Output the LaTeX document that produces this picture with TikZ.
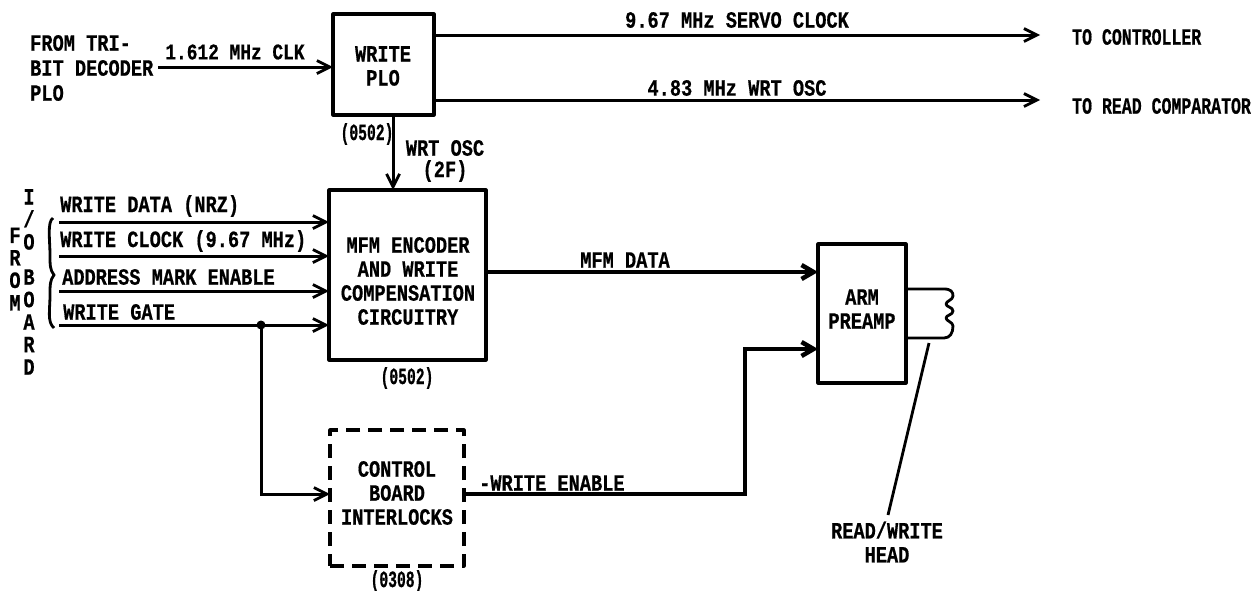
\documentclass[tikz,border=0pt]{standalone}
\usepackage{fontspec}
\usetikzlibrary{arrows.meta,calc}
\newfontfamily\lett[FakeStretch=0.8,FakeBold=0.6]{Liberation Mono Bold}
\newfontfamily\lettr[FakeStretch=0.71,FakeBold=0.6]{Liberation Mono Bold}
\newfontfamily\letts[FakeStretch=0.63,FakeBold=0.6]{Liberation Mono Bold}
\tikzset{
  x=1pt,y=-1pt,
  block/.style={draw,line width=3.2pt,line join=round,inner sep=0pt,align=center},
  dashblock/.style={block,dash pattern=on 14pt off 8pt},
  lbl/.style={font=\lett\fontsize{23.3}{24}\selectfont,inner sep=0pt,align=center},
  lbls/.style={lbl,font=\letts\fontsize{23.3}{24}\selectfont},
  lblr/.style={lbl,font=\lettr\fontsize{23.3}{24}\selectfont,anchor=west},
  lbll/.style={lbl,anchor=west,align=left},
  conn/.style={line width=3pt,-{Straight Barb[length=13pt,width=13pt,line width=2.8pt]}},
  heavy/.style={line width=3.6pt,-{Straight Barb[length=12pt,width=14pt,line width=4.5pt]}},
  wire/.style={line width=2.8pt},
  vert/.style={lbl,font=\lett\fontsize{23.3}{22.5}\selectfont}
}
\begin{document}
\begin{tikzpicture}
\useasboundingbox (0,0) rectangle (1258,590);
% blocks
\node[block,minimum width=101pt,minimum height=101pt] (plo) at (383.5,64.5) {};
\node[lbl,text width=90pt] (plot) at (383,66) {WRITE\\PLO};
\node[block,minimum width=157pt,minimum height=170pt] (mfm) at (407.5,275) {};
\node[lbl] (mfmt) at (408,281) {MFM ENCODER\\AND WRITE\\COMPENSATION\\CIRCUITRY};
\node[block,minimum width=88pt,minimum height=139pt] (arm) at (862,313.5) {};
\node[lbl] (armt) at (862,309) {ARM\\PREAMP};
\node[dashblock,minimum width=134pt,minimum height=136pt] (ctl) at (397,498) {};
\node[lbl] (ctlt) at (397,493) {CONTROL\\BOARD\\INTERLOCKS};
% free ends
\coordinate (clkin) at (158,67);
\coordinate (clkout) at (333,67);
\coordinate (s1) at (434,35);
\coordinate (s1e) at (1040,35);
\coordinate (w1) at (434,100);
\coordinate (w1e) at (1040,100);
\coordinate (oscA) at (393,115);
\coordinate (oscB) at (393,190);
\coordinate (i1) at (59,222);
\coordinate (i1e) at (329,222);
\coordinate (i2) at (59,256);
\coordinate (i2e) at (329,256);
\coordinate (i3) at (59,291);
\coordinate (i3e) at (329,291);
\coordinate (i4) at (59,325);
\coordinate (i4e) at (329,325);
\coordinate (dot) at (261,325);
\coordinate (ctlin) at (330,494);
\coordinate (ctlout) at (464,494);
\coordinate (wen) at (745,349);
\coordinate (armb) at (818,349);
\coordinate (mfmo) at (486,272);
\coordinate (armt1) at (818,272);
\coordinate (c1) at (906,289);
\coordinate (c2) at (906,338);
\coordinate (hp) at (929,343);
\coordinate (hq) at (888,515);
% connectors
\draw[conn] (clkin) -- (clkout);
\draw[conn] (s1) -- (s1e);
\draw[conn] (w1) -- (w1e);
\draw[conn] (oscA) -- (oscB);
\draw[conn] (i1) -- (i1e);
\draw[conn] (i2) -- (i2e);
\draw[conn] (i3) -- (i3e);
\draw[conn] (i4) -- (i4e);
\fill (dot) circle (4.5pt);
\draw[conn] (dot) |- (ctlin);
\draw[heavy] (mfmo) -- (armt1);
\draw[heavy] (ctlout) -| (wen) -- (armb);
% coil
\draw[wire,line join=round] (c1) -- (944,289)
  .. controls (951,289) and (953,292) .. (953,296)
  .. controls (953,300) and (946,301) .. (946,304)
  .. controls (946,307) and (953,307) .. (953,311)
  .. controls (953,315) and (946,315) .. (946,318)
  .. controls (946,321) and (953,322) .. (953,326)
  .. controls (953,333) and (950,338) .. (944,338) -- (c2);
\draw[wire] (hp) -- (hq);
% brace
\draw[line width=2.8pt] (53,218) .. controls (47,222) and (50,240) .. (50,255)
  .. controls (50,265) and (50,270) .. (54,275)
  .. controls (50,280) and (50,285) .. (50,295)
  .. controls (50,310) and (47,322) .. (54,328);
% labels
\node[lbll] (t1) at (30,43) {FROM TRI-};
\node[lbll] (t2) at (30,68) {BIT DECODER};
\node[lbll] (t3) at (30,93) {PLO};
\node[lbl,font=\lett\fontsize{22.3}{24}\selectfont] (t4) at (235,52) {1.612 MHz CLK};
\node[lbls] (t5) at (367,134) {(0502)};
\node[lbl] (t6) at (445,148) {WRT OSC};
\node[lbl] (t7) at (445,171) {(2F)};
\node[lbl] (t8) at (737,20) {9.67 MHz SERVO CLOCK};
\node[lbl] (t9) at (737,88) {4.83 MHz WRT OSC};
\node[lblr] (t10) at (1072,37) {TO CONTROLLER};
\node[lblr] (t11) at (1072,106) {TO READ COMPARATOR};
\node[lbls] (t12) at (407,378) {(0502)};
\node[lbl] (t13) at (625,260) {MFM DATA};
\node[lbls] (t14) at (397,581) {(0308)};
\node[lbll] (t15) at (479,483) {-WRITE ENABLE};
\node[lbl] (t16) at (887,542) {READ/WRITE\\HEAD};
\node[lbll] (t17) at (60,206) {WRITE DATA (NRZ)};
\node[lbll] (t18) at (60,241) {WRITE CLOCK (9.67 MHz)};
\node[lbll] (t19) at (62,277) {ADDRESS MARK ENABLE};
\node[lbll] (t20) at (63,312) {WRITE GATE};
\node[vert] (f) at (15,269) {F\\R\\O\\M};
\node[vert] (io) at (29,219.5) {I\\/\\O};
\node[vert] (bd) at (29,322) {B\\O\\A\\R\\D};
\end{tikzpicture}
\end{document}
